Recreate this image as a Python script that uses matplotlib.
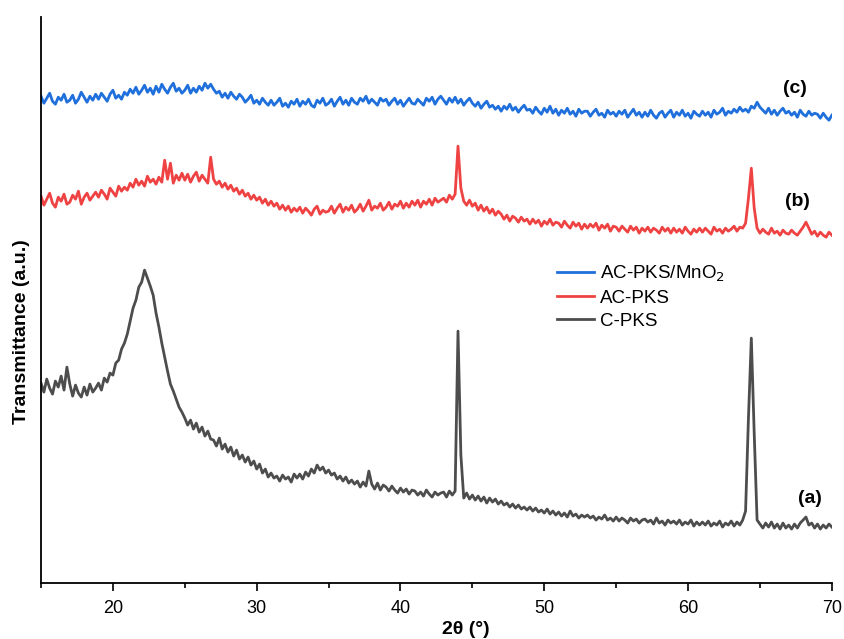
import numpy as np
import matplotlib
matplotlib.use("Agg")
import matplotlib.pyplot as plt

# 2theta grid (deg), step 0.2
two_theta = np.round(np.linspace(15, 70, 276), 1)

# intensities (a.u.), one row = 2 deg
c_pks = [
    200, 191, 204, 195, 189, 202, 196, 207, 193, 216,
    199, 187, 198, 190, 186, 196, 188, 199, 191, 195,
    200, 193, 205, 201, 210, 208, 220, 223, 234, 240,
    249, 262, 275, 283, 296, 301, 313, 305, 297, 288,
    270, 256, 240, 226, 212, 199, 192, 184, 176, 171,
    165, 158, 163, 154, 160, 151, 156, 147, 152, 144,
    143, 137, 145, 134, 139, 131, 136, 127, 133, 124,
    128, 121, 126, 118, 122, 114, 119, 110, 114, 106,
    110, 105, 107, 102, 108, 104, 106, 101, 109, 105,
    109, 104, 111, 107, 114, 110, 118, 113, 116, 110,
    113, 108, 110, 104, 107, 102, 106, 100, 103, 99,
    102, 96, 101, 97, 112, 99, 94, 100, 93, 98,
    96, 92, 97, 93, 90, 95, 91, 94, 89, 93,
    92, 88, 91, 87, 93, 89, 86, 91, 88, 90,
    91, 86, 92, 88, 92, 252, 128, 85, 90, 84,
    88, 83, 87, 82, 86, 80, 85, 81, 84, 79,
    82, 78, 80, 76, 79, 75, 78, 74, 76, 73,
    76, 72, 75, 71, 73, 70, 74, 69, 72, 68,
    71, 67, 70, 66, 72, 67, 69, 65, 68, 66,
    68, 65, 67, 63, 66, 64, 68, 63, 65, 62,
    66, 62, 65, 63, 60, 65, 62, 64, 60, 63,
    64, 61, 63, 59, 65, 60, 62, 58, 63, 60,
    62, 59, 63, 58, 61, 59, 63, 57, 61, 58,
    61, 58, 62, 57, 60, 58, 62, 56, 60, 58,
    62, 57, 61, 58, 63, 72, 165, 245, 150, 63,
    59, 55, 60, 56, 61, 55, 59, 54, 60, 55,
    58, 54, 59, 55, 60, 63, 66, 58, 60, 55,
    59, 54, 58, 55, 59, 56,
]

ac_pks = [
    387, 378, 384, 390, 380, 376, 386, 382, 389, 379,
    381, 388, 384, 392, 379, 386, 390, 383, 387, 391,
    386, 393, 389, 384, 395, 391, 387, 397, 392, 396,
    393, 400, 396, 404, 398, 402, 397, 407, 401, 404,
    399, 406, 401, 423, 404, 420, 400, 408, 403, 410,
    403, 409, 401, 407, 411, 402, 408, 404, 400, 426,
    404, 399, 402, 396, 400, 394, 398, 392, 395, 389,
    393, 387, 390, 384, 388, 383, 386, 380, 384, 378,
    382, 377, 380, 374, 378, 373, 377, 371, 375, 372,
    376, 370, 375, 372, 368, 374, 377, 369, 373, 371,
    372, 377, 370, 375, 379, 371, 376, 373, 378, 371,
    374, 379, 372, 377, 383, 373, 377, 375, 380, 373,
    376, 381, 374, 379, 377, 382, 375, 380, 376, 382,
    378, 383, 376, 382, 379, 384, 378, 385, 381, 383,
    385, 381, 388, 384, 389, 437, 395, 382, 378, 383,
    377, 380, 373, 378, 372, 376, 370, 374, 368, 372,
    369, 364, 368, 362, 367, 365, 361, 366, 362, 364,
    359, 364, 360, 363, 357, 362, 359, 364, 358, 361,
    360, 356, 362, 358, 355, 361, 357, 360, 354, 359,
    355, 359, 356, 360, 353, 358, 355, 359, 352, 357,
    356, 352, 357, 354, 351, 357, 353, 356, 350, 355,
    352, 356, 351, 355, 353, 350, 356, 352, 355, 350,
    355, 351, 354, 350, 356, 352, 349, 354, 351, 355,
    351, 355, 352, 349, 356, 352, 354, 350, 355, 352,
    354, 357, 352, 356, 355, 360, 385, 415, 375, 355,
    350, 354, 351, 349, 355, 350, 352, 348, 353, 350,
    349, 353, 350, 348, 352, 356, 361, 355, 349, 352,
    347, 351, 348, 346, 351, 348,
]

ac_pks_mno2 = [
    487, 480, 485, 490, 482, 479, 486, 483, 489, 481,
    483, 488, 480, 484, 491, 486, 481, 487, 483, 489,
    484, 490, 486, 482, 489, 493, 485, 488, 484, 491,
    488, 494, 490, 496, 489, 493, 498, 491, 495, 489,
    497, 491, 499, 494, 490, 496, 500, 492, 495, 490,
    493, 498, 490, 495, 491, 497, 493, 500, 495, 499,
    494, 490, 492, 486, 490, 485, 491, 487, 484, 489,
    486, 481, 484, 488, 480, 483, 479, 485, 481, 478,
    483, 478, 481, 485, 477, 480, 476, 482, 479, 484,
    477, 482, 479, 484, 478, 476, 483, 480, 485, 478,
    480, 484, 477, 482, 486, 479, 483, 478, 485, 481,
    479, 485, 482, 487, 480, 484, 481, 478, 485, 482,
    484, 478, 482, 485, 479, 483, 477, 481, 485, 480,
    479, 484, 481, 478, 485, 482, 486, 479, 484, 487,
    483, 479, 485, 481, 486, 480, 484, 478, 482, 485,
    480, 477, 481, 475, 479, 482, 476, 478, 474, 477,
    472, 477, 474, 479, 473, 476, 471, 475, 478, 473,
    474, 470, 476, 472, 469, 475, 471, 477, 470, 474,
    468, 473, 470, 475, 469, 472, 467, 474, 470, 472,
    472, 467, 471, 474, 468, 470, 466, 473, 469, 471,
    467, 472, 469, 473, 466, 470, 474, 468, 471, 466,
    471, 467, 473, 468, 465, 470, 472, 466, 470, 473,
    466, 471, 468, 473, 467, 470, 465, 472, 469, 467,
    472, 468, 471, 466, 473, 469, 471, 475, 468, 472,
    470, 474, 471, 476, 472, 474, 471, 477, 475, 481,
    476, 473, 470, 475, 469, 473, 468, 472, 475, 470,
    472, 468, 471, 466, 473, 469, 467, 472, 468, 470,
    469, 465, 470, 466, 463, 468,
]

series_names = ["AC-PKS/MnO$_2$", "AC-PKS", "C-PKS"]
series_colors = ["#1f6fdc", "#ef4343", "#4d4d4d"]
curve_tags = ["(c)", "(b)", "(a)"]
tag_x = [67.4, 67.6, 68.5]
tag_y = [495, 382, 85]

plt.rcParams["font.family"] = ["Liberation Sans", "DejaVu Sans"]

fig = plt.figure(figsize=(8.44, 6.39), dpi=100)
ax = fig.add_axes([0.0486, 0.0876, 0.937, 0.8854])

for vals, name, col in zip([ac_pks_mno2, ac_pks, c_pks], series_names, series_colors):
    ax.plot(two_theta, vals, color=col, lw=2.0, label=name)

for t, x, y in zip(curve_tags, tag_x, tag_y):
    ax.text(x, y, t, fontsize=14, fontweight="bold", ha="center", va="center")

ax.set_xlim(15, 70)
ax.set_ylim(0, 566)
ax.set_xticks([20, 30, 40, 50, 60, 70])
ax.set_xticks([15, 25, 35, 45, 55, 65], minor=True)
ax.set_yticks([])
ax.tick_params(axis="x", which="major", length=6, width=1.2, labelsize=13, pad=6)
ax.tick_params(axis="x", which="minor", length=3.5, width=1.2)
for s in ["top", "right"]:
    ax.spines[s].set_visible(False)
for s in ["left", "bottom"]:
    ax.spines[s].set_linewidth(1.3)

ax.set_xlabel("2θ (°)", fontsize=14, fontweight="bold")
ax.xaxis.set_label_coords(0.537, -0.068)
ax.set_ylabel("Transmittance (a.u.)", fontsize=14, fontweight="bold")
ax.yaxis.set_label_coords(-0.014, 0.445)

ax.legend(loc="upper left", bbox_to_anchor=(0.631, 0.594), frameon=False,
          fontsize=13.5, handlelength=2.0, labelspacing=0.3, handletextpad=0.3)

fig.savefig("out.png", dpi=100)
